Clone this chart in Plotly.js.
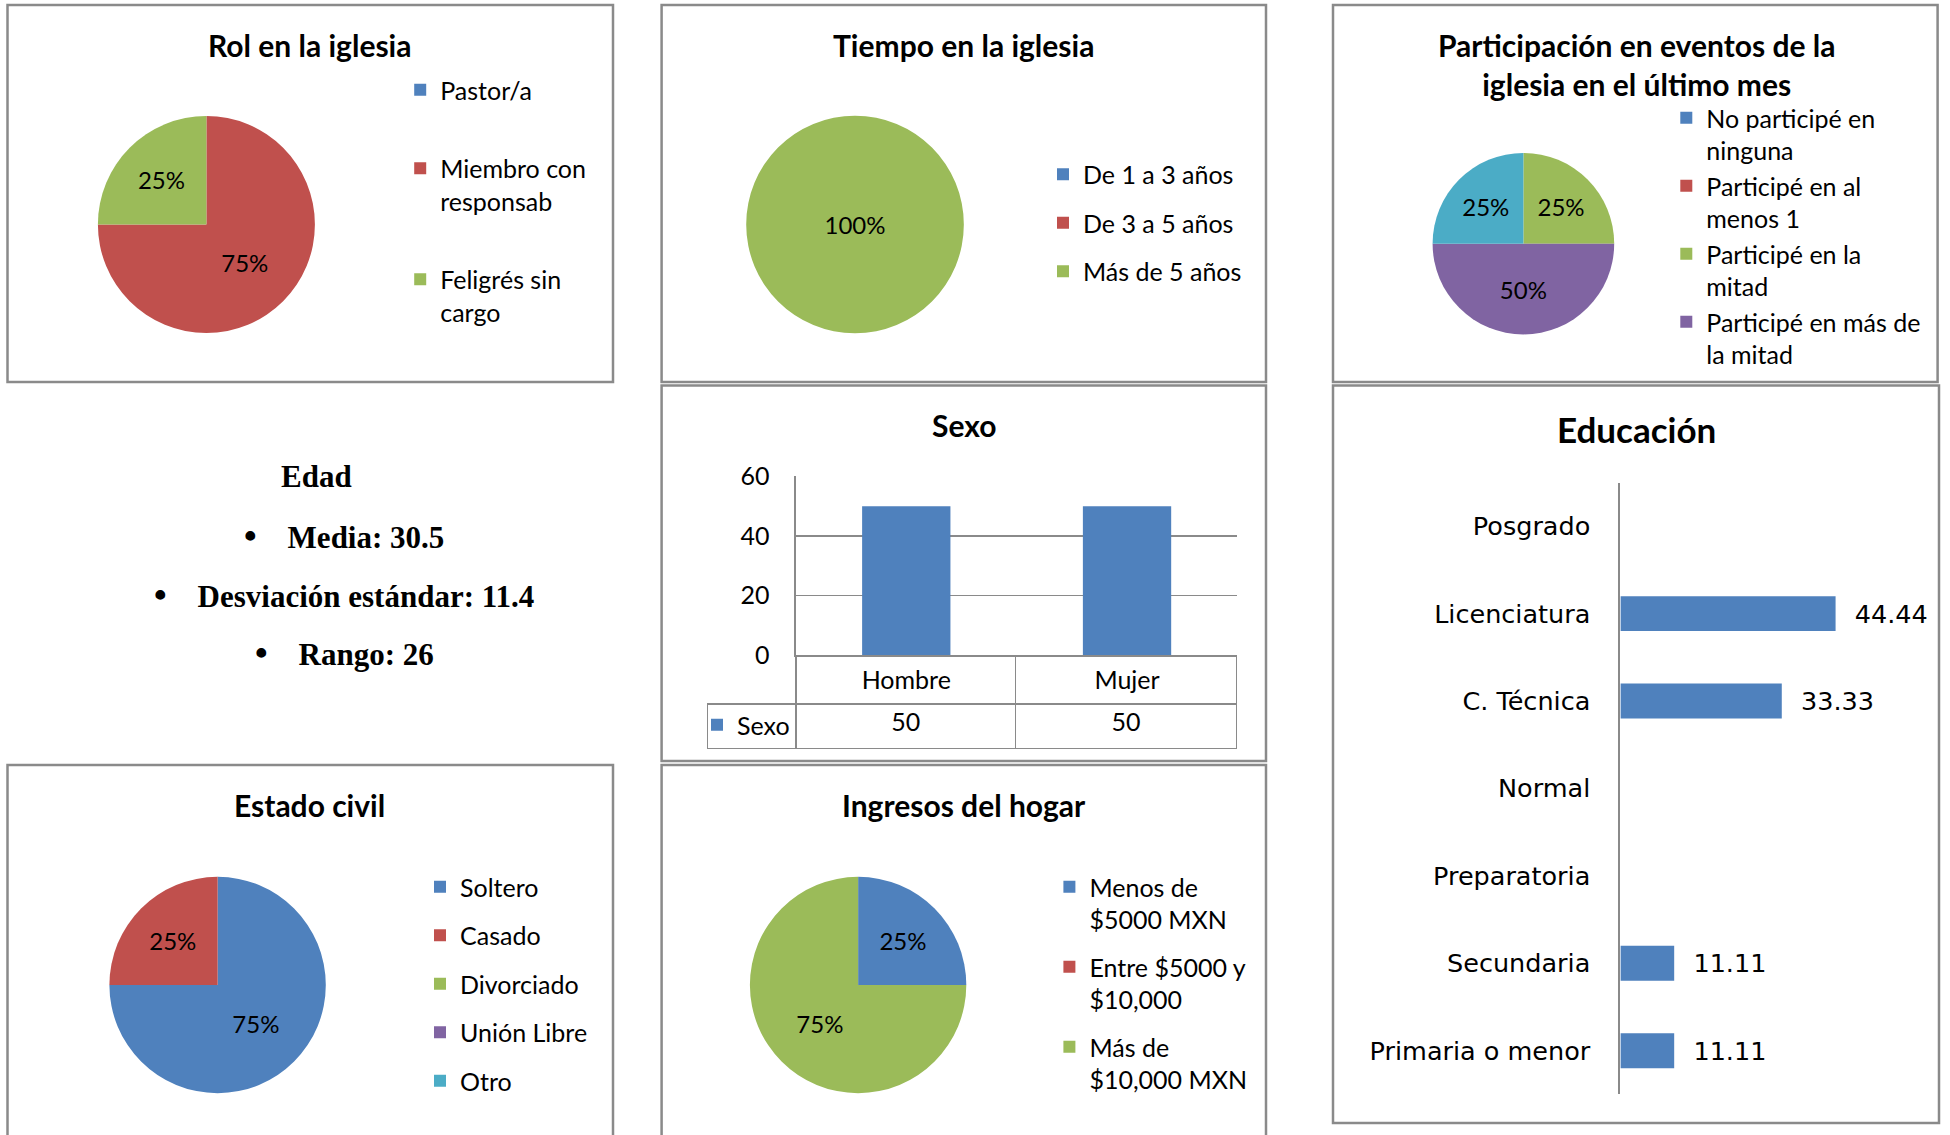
<!DOCTYPE html>
<html><head><meta charset="utf-8">
<script src="https://cdn.plot.ly/plotly-3.0.1.min.js"></script>
<style>html,body{margin:0;padding:0;background:#fff;}#chart{width:1950px;height:1135px;}</style>
</head><body><div id="chart"></div>
<script>
// ---------------- data ----------------
const rolLabels = ['Pastor/a', 'Miembro con<br>responsab', 'Feligrés sin<br>cargo'];
const rolValues = [0, 75, 25];

const tiempoLabels = ['De 1 a 3 años', 'De 3 a 5 años', 'Más de 5 años'];
const tiempoValues = [0, 0, 100];

const partLabels = ['No participé en<br>ninguna', 'Participé en al<br>menos 1', 'Participé en la<br>mitad', 'Participé en más de<br>la mitad', 'Participé en todas'];
const partValues = [0, 0, 25, 50, 25];
const partLegendShown = 4; // the original legend is cut after four entries

const civilLabels = ['Soltero', 'Casado', 'Divorciado', 'Unión Libre', 'Otro'];
const civilValues = [75, 25, 0, 0, 0];

const ingresoLabels = ['Menos de<br>$5000 MXN', 'Entre $5000 y<br>$10,000', 'Más de<br>$10,000 MXN'];
const ingresoValues = [25, 0, 75];

const sexoCategories = ['Hombre', 'Mujer'];
const sexoValues = [50, 50];
const sexoSeries = 'Sexo';
const sexoTicks = [0, 20, 40, 60];

const eduCategories = ['Posgrado', 'Licenciatura', 'C. Técnica', 'Normal', 'Preparatoria', 'Secundaria', 'Primaria o menor'];
const eduValues = [null, 44.44, 33.33, null, null, 11.11, 11.11];

const edadTitle = 'Edad';
const edadStatNames = ['Media', 'Desviación estándar', 'Rango'];
const edadStatValues = [30.5, 11.4, 26];

const tRol = 'Rol en la iglesia';
const tTiempo = 'Tiempo en la iglesia';
const tPart = 'Participación en eventos de la<br>iglesia en el último mes';
const tSexo = 'Sexo';
const tEdu = 'Educación';
const tCivil = 'Estado civil';
const tIngreso = 'Ingresos del hogar';

// ---------------- styles / layout helpers ----------------
const W = 1950, H = 1135;
const SANS = 'Lato, "Open Sans", sans-serif';
const EDU_FONT = '"DejaVu Sans", Verdana, sans-serif';
const SERIF = '"Liberation Serif", "DejaVu Serif", serif';
const palette = ['#4f81bd', '#c0504d', '#9bbb59', '#8064a2', '#4bacc6'];
const GRID = '#8a8a8a';
const FS = 25;
const px = v => v / W;
const py = v => 1 - v / H;

function pctText(values) {
  const s = values.reduce((a, b) => a + b, 0);
  return values.map(v => v > 0 ? Math.round(v / s * 100) + '%' : '');
}

function pie(labels, values, cx, cy, r) {
  return {
    type: 'pie', labels: labels, values: values, sort: false,
    direction: 'clockwise', rotation: 0,
    marker: {colors: palette.slice(0, labels.length), line: {width: 0}},
    text: pctText(values), textinfo: 'text', textposition: 'inside',
    insidetextorientation: 'horizontal',
    insidetextfont: {family: SANS, size: 24, color: '#000'},
    domain: {x: [px(cx - r), px(cx + r)], y: [py(cy + r), py(cy - r)]},
    showlegend: false, hoverinfo: 'label+percent'
  };
}

function legendItems(labels, legendId, n) {
  return labels.slice(0, n).map((lab, i) => ({
    type: 'scatter', x: [null], y: [null], xaxis: 'x3', yaxis: 'y3',
    mode: 'markers', marker: {symbol: 'square', size: 12, color: palette[i], line: {width: 0}},
    name: lab, legend: legendId, legendgroup: legendId + '_' + i, showlegend: true, hoverinfo: 'skip'
  }));
}

function legendBox(textX, top, gap) {
  return {
    x: px(textX - 40), xanchor: 'left', y: py(top), yanchor: 'top',
    bgcolor: 'rgba(0,0,0,0)', borderwidth: 0,
    font: {family: SANS, size: FS, color: '#000'},
    tracegroupgap: gap, valign: 'top', traceorder: 'grouped',
    itemclick: false, itemdoubleclick: false
  };
}

function title(text, x, y, size) {
  return {text: text, x: px(x), y: py(y), xref: 'paper', yref: 'paper', showarrow: false,
    xanchor: 'center', yanchor: 'middle',
    font: {family: SANS, size: size || 30, color: '#000', weight: 700}};
}

// ---------------- traces ----------------
const traces = [];
traces.push(pie(rolLabels, rolValues, 206.4, 224.5, 108.5));
traces.push(pie(tiempoLabels, tiempoValues, 855, 224.5, 108.8));
traces.push(pie(partLabels, partValues, 1523.4, 243.7, 90.8));
traces.push(pie(civilLabels, civilValues, 217.6, 985, 108.2));
traces.push(pie(ingresoLabels, ingresoValues, 858.1, 985, 108.2));

traces.push(...legendItems(rolLabels, 'legend', rolLabels.length));
traces.push(...legendItems(tiempoLabels, 'legend2', tiempoLabels.length));
traces.push(...legendItems(partLabels, 'legend3', partLegendShown));
traces.push(...legendItems(civilLabels, 'legend4', civilLabels.length));
traces.push(...legendItems(ingresoLabels, 'legend5', ingresoLabels.length));

// Sexo column chart (its legend key sits in the data table, as in the original)
traces.push({
  type: 'bar', x: sexoCategories, y: sexoValues, name: sexoSeries,
  xaxis: 'x', yaxis: 'y', marker: {color: palette[0]},
  showlegend: true, legend: 'legend6', hoverinfo: 'x+y'
});
// Sexo data table under the column chart (category names come from the x axis)
traces.push({
  type: 'table',
  domain: {x: [px(707.6), px(1237.4)], y: [py(752), py(655.4)]},
  columnwidth: [88.3, 220.1, 221.4],
  header: {
    values: ['', '', ''], height: 48.5, align: 'center',
    fill: {color: 'rgba(0,0,0,0)'},
    line: {color: ['rgba(0,0,0,0)', GRID, GRID], width: 1.5},
    font: {family: SANS, size: FS, color: '#000'}
  },
  cells: {
    values: [['']].concat(sexoValues.map(v => [v])),
    height: 44.7, align: 'center',
    fill: {color: 'rgba(0,0,0,0)'}, line: {color: GRID, width: 1.5},
    font: {family: SANS, size: FS, color: '#000'}
  }
});

// Educación horizontal bar chart
traces.push({
  type: 'bar', orientation: 'h', y: eduCategories, x: eduValues,
  xaxis: 'x2', yaxis: 'y2', marker: {color: palette[0]},
  texttemplate: '\u00A0\u00A0%{x}', textposition: 'outside', cliponaxis: false, constraintext: 'none',
  textfont: {family: EDU_FONT, size: 25.5, color: '#000'}, showlegend: false, hoverinfo: 'y+x'
});

// ---------------- layout ----------------
const panels = [
  [7.5, 5, 613, 382], [661.6, 5, 1266, 382], [1333, 5, 1937.6, 382],
  [661.6, 385.5, 1266, 761], [1333, 385.5, 1939, 1123],
  [7.5, 765, 613, 1145], [661.6, 765, 1266, 1145]
];
const shapes = panels.map(p => ({
  type: 'rect', xref: 'paper', yref: 'paper',
  x0: px(p[0]), x1: px(p[2]), y0: py(p[3]), y1: py(p[1]),
  line: {color: GRID, width: 2.5}, fillcolor: 'rgba(0,0,0,0)', layer: 'below'
}));

const annotations = [
  title(tRol, 309.7, 44.8),
  title(tTiempo, 963.8, 44.8),
  title(tPart, 1636.6, 64),
  title(tSexo, 963.8, 425.3),
  title(tEdu, 1636.6, 429, 35),
  title(tCivil, 309.7, 804.6),
  title(tIngreso, 963.8, 804.6),
  {text: edadTitle, x: px(316), y: py(476), xref: 'paper', yref: 'paper', showarrow: false,
   xanchor: 'center', yanchor: 'middle', font: {family: SERIF, size: 31, color: '#000', weight: 700}}
];
const edadY = [536, 594.5, 653];
edadStatNames.forEach((n, i) => {
  annotations.push({
    text: '<span style="font-size:36px">•</span>' + '\u00A0'.repeat(4) + n + ': ' + edadStatValues[i],
    x: px(344), y: py(edadY[i]), xref: 'paper', yref: 'paper', showarrow: false,
    xanchor: 'center', yanchor: 'middle', font: {family: SERIF, size: 31, color: '#000', weight: 700}
  });
});

const layout = {
  width: W, height: H, margin: {l: 0, r: 0, t: 0, b: 0},
  paper_bgcolor: '#fff', plot_bgcolor: 'rgba(0,0,0,0)',
  bargap: 0.6, showlegend: true,
  xaxis: {domain: [px(795.9), px(1237.4)], anchor: 'y', type: 'category', range: [-0.5, 1.5],
    showticklabels: true, tickfont: {family: SANS, size: FS, color: '#000'}, ticklabelstandoff: 2,
    showgrid: false, zeroline: false, showline: true,
    linecolor: GRID, linewidth: 1.5, ticks: '', fixedrange: true},
  yaxis: {domain: [py(655.4), py(476.3)], anchor: 'x', range: [0, 60], tickvals: sexoTicks,
    showgrid: true, gridcolor: GRID, gridwidth: 1.5, showline: true, linecolor: GRID, linewidth: 1.5,
    zeroline: false, ticks: '', ticklabelstandoff: 20,
    tickfont: {family: SANS, size: FS, color: '#000'}, fixedrange: true},
  xaxis2: {domain: [px(1620.4), px(1862.5)], anchor: 'y2', range: [0, 50], visible: false, fixedrange: true},
  yaxis2: {domain: [py(1094.4), py(482.5)], anchor: 'x2', type: 'category', autorange: 'reversed',
    showline: true, linecolor: GRID, linewidth: 2, ticks: '', showgrid: false, zeroline: false,
    ticklabelstandoff: 23, tickfont: {family: EDU_FONT, size: 25.5, color: '#000'}, fixedrange: true},
  xaxis3: {domain: [0, 0.001], anchor: 'y3', visible: false},
  yaxis3: {domain: [0, 0.001], anchor: 'x3', visible: false},
  legend: legendBox(440.2, 67, 43),
  legend2: legendBox(1083, 151.5, 13),
  legend3: legendBox(1706.3, 95, 0),
  legend4: legendBox(460, 864, 13),
  legend5: legendBox(1089.4, 864, 12),
  legend6: legendBox(737, 702, 0),
  shapes: shapes,
  annotations: annotations
};

Plotly.newPlot('chart', traces, layout, {staticPlot: true, displayModeBar: false});
</script>
</body></html>
